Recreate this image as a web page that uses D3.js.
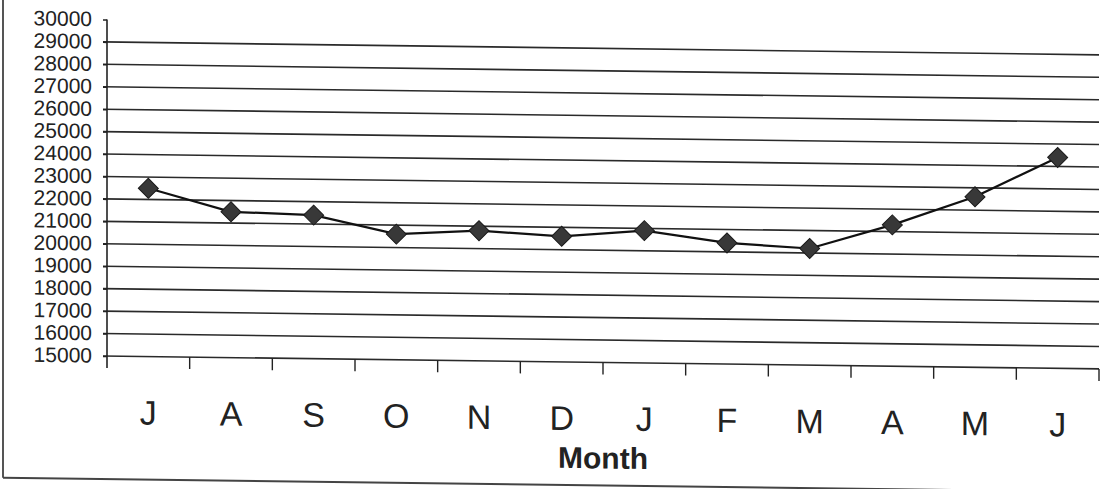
<!DOCTYPE html>
<html>
<head>
<meta charset="utf-8">
<script src="https://cdn.jsdelivr.net/npm/d3@7"></script>
<style>
  html, body { margin: 0; padding: 0; background: #fff; }
  svg { display: block; }
</style>
</head>
<body>
<svg id="chart" width="1114" height="489"></svg>
<script>
// Monthly values, July through June
const months = ["J", "A", "S", "O", "N", "D", "J", "F", "M", "A", "M", "J"];
const values = [22500, 21500, 21400, 20600, 20800, 20600, 20900, 20400, 20200, 21300, 22600, 24400];
const yTickValues = d3.range(15000, 30001, 1000);
const xTitle = "Month";

const W = 1114, H = 489;
const plot = { left: 107, right: 1099, top: 19.5, bottom: 356 };
const tilt = 0.013; // the printed page sits slightly askew

const svg = d3.select("#chart");
const root = svg.append("g")
  .attr("transform", `matrix(1,${tilt},0,1,0,${-tilt * plot.left})`);

const x = d3.scaleBand()
  .domain(d3.range(months.length))
  .range([plot.left, plot.right])
  .paddingInner(0).paddingOuter(0);

const y = d3.scaleLinear()
  .domain([15000, 30000])
  .range([plot.bottom, plot.top]);

const ink = "#222";
const font = "'Liberation Sans', Arial, sans-serif";

// outer frame (left and bottom edges visible)
root.append("line")
  .attr("x1", 3).attr("x2", 3).attr("y1", -10).attr("y2", 479)
  .attr("stroke", "#555").attr("stroke-width", 2);
root.append("line")
  .attr("x1", 3).attr("x2", W + 20).attr("y1", 479).attr("y2", 479)
  .attr("stroke", "#444").attr("stroke-width", 2);

// horizontal gridlines (none at the top value)
root.append("g")
  .selectAll("line")
  .data(yTickValues.filter(v => v < 30000))
  .join("line")
  .attr("x1", plot.left - 4).attr("x2", plot.right)
  .attr("y1", d => y(d)).attr("y2", d => y(d))
  .attr("stroke", "#2a2a2a").attr("stroke-width", 1.6);

// y axis with outward ticks and labels
const yAxis = d3.axisLeft(y)
  .tickValues(yTickValues)
  .tickSize(4)
  .tickPadding(11)
  .tickFormat(d3.format("d"));
const yg = root.append("g")
  .attr("transform", `translate(${plot.left},0)`)
  .call(yAxis);
yg.select(".domain").remove();
yg.selectAll(".tick line").attr("stroke", ink).attr("stroke-width", 1.4);
yg.selectAll(".tick text")
  .attr("fill", ink)
  .attr("font-family", font)
  .attr("font-size", 21)
  .attr("dy", "0.3em");
// vertical axis line, extended down to the category tick length
root.append("line")
  .attr("x1", plot.left).attr("x2", plot.left)
  .attr("y1", plot.top).attr("y2", plot.bottom + 12)
  .attr("stroke", ink).attr("stroke-width", 1.6);

// x axis: ticks between categories, labels centered in each band
const boundaries = d3.range(months.length + 1).map(i =>
  i < months.length ? x(i) : x(months.length - 1) + x.bandwidth());
root.append("g")
  .selectAll("line")
  .data(boundaries.slice(1))
  .join("line")
  .attr("x1", d => d).attr("x2", d => d)
  .attr("y1", plot.bottom).attr("y2", plot.bottom + 12)
  .attr("stroke", ink).attr("stroke-width", 1.4);

root.append("g")
  .selectAll("text")
  .data(months)
  .join("text")
  .attr("x", (d, i) => x(i) + x.bandwidth() / 2)
  .attr("y", 424)
  .attr("text-anchor", "middle")
  .attr("font-family", font)
  .attr("font-size", 34)
  .attr("fill", ink)
  .text(d => d);

root.append("text")
  .attr("x", (plot.left + plot.right) / 2)
  .attr("y", 462)
  .attr("text-anchor", "middle")
  .attr("font-family", font)
  .attr("font-weight", "bold")
  .attr("font-size", 30)
  .attr("fill", ink)
  .text(xTitle);

// data series
const line = d3.line()
  .x((d, i) => x(i) + x.bandwidth() / 2)
  .y(d => y(d));
root.append("path")
  .datum(values)
  .attr("d", line)
  .attr("fill", "none")
  .attr("stroke", "#111")
  .attr("stroke-width", 2.2);

const diamond = d3.symbol().type(d3.symbolSquare).size(200);
root.append("g")
  .selectAll("path")
  .data(values)
  .join("path")
  .attr("d", diamond)
  .attr("transform", (d, i) => `translate(${x(i) + x.bandwidth() / 2},${y(d)}) rotate(45)`)
  .attr("fill", "#383838")
  .attr("stroke", "#1a1a1a")
  .attr("stroke-width", 1);
</script>
</body>
</html>
